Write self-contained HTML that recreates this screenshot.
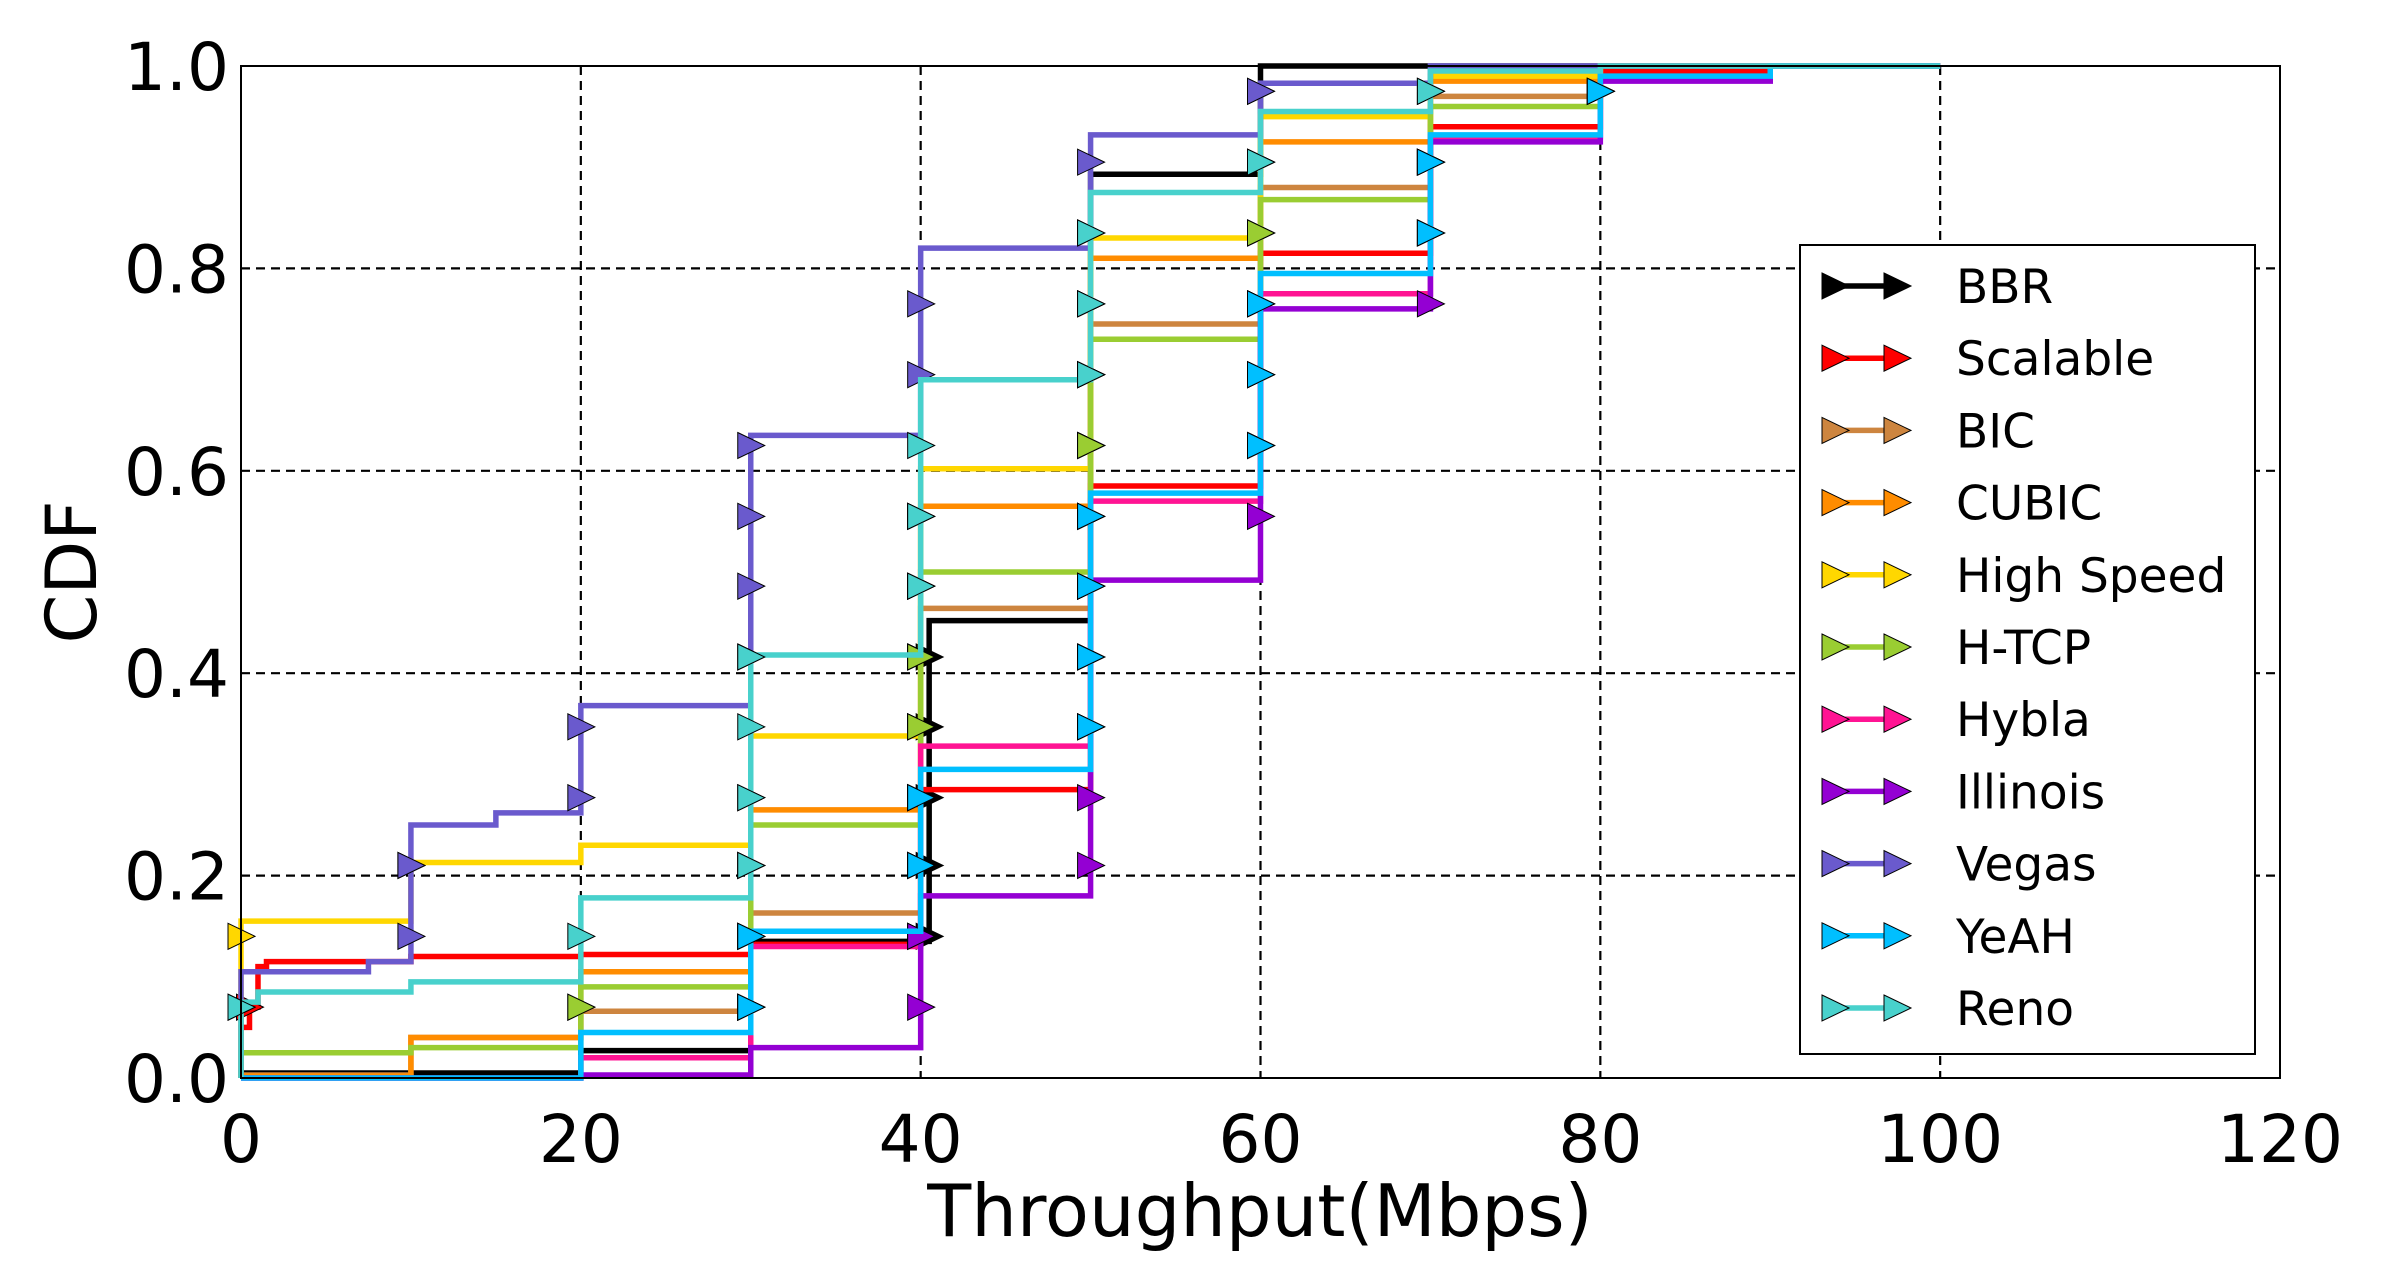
<!DOCTYPE html>
<html><head><meta charset="utf-8"><style>
html,body{margin:0;padding:0;background:#fff}
svg{display:block}
text{font-family:"DejaVu Sans","Liberation Sans",sans-serif;fill:#000}
</style></head><body>
<svg id="chart" width="2400" height="1270" viewBox="0 0 2400 1270" xmlns="http://www.w3.org/2000/svg">
<g id="grid"></g>
<g id="series"></g>
<rect x="241" y="66" width="2039" height="1012" fill="none" stroke="#000" stroke-width="2"/>
<g id="ticks"></g>
<text x="1260" y="1236" font-size="72" text-anchor="middle">Throughput(Mbps)</text>
<text x="0" y="0" font-size="70" text-anchor="middle" transform="translate(96,572) rotate(-90)">CDF</text>
<g id="legend"></g>
</svg>
<script>
const xTicks=[0,20,40,60,80,100,120];
const yTicks=[0.0,0.2,0.4,0.6,0.8,1.0];
const names=["BBR","Scalable","BIC","CUBIC","High Speed","H-TCP","Hybla","Illinois","Vegas","YeAH","Reno"];
const colors=["#000000","#ff0000","#cd853f","#ff8c00","#ffd700","#9acd32","#ff1493","#9400d3","#6a5acd","#00bfff","#48d1cc"];
const bbrX=[0,20,30,40.5,50,60,100];
const bbrY=[0.005,0.027,0.135,0.452,0.893,1.0,1.0];
const scalableX=[0,0.5,1,1.5,10,20,30,40,50,60,70,80,90,100];
const scalableY=[0.05,0.07,0.11,0.115,0.12,0.122,0.132,0.285,0.585,0.815,0.94,0.995,1.0,1.0];
const bicX=[0,10,20,30,40,50,60,70,80,100];
const bicY=[0.003,0.04,0.066,0.163,0.464,0.745,0.88,0.97,1.0,1.0];
const cubicX=[0,10,20,30,40,50,60,70,80,100];
const cubicY=[0.002,0.04,0.105,0.265,0.565,0.81,0.925,0.985,1.0,1.0];
const highSpeedX=[0,10,20,30,40,50,60,70,80,100];
const highSpeedY=[0.155,0.213,0.23,0.338,0.602,0.83,0.95,0.99,1.0,1.0];
const htcpX=[0,10,20,30,40,50,60,70,80,100];
const htcpY=[0.025,0.03,0.09,0.25,0.5,0.73,0.868,0.96,1.0,1.0];
const hyblaX=[0,20,30,40,50,60,70,80,100];
const hyblaY=[0.0,0.02,0.13,0.328,0.57,0.775,0.93,1.0,1.0];
const illinoisX=[0,20,30,40,50,60,70,80,90,100];
const illinoisY=[0.0,0.003,0.03,0.18,0.492,0.76,0.925,0.985,1.0,1.0];
const vegasX=[0,7.5,10,15,20,30,40,50,60,70,100];
const vegasY=[0.105,0.115,0.25,0.262,0.368,0.635,0.82,0.932,0.983,1.0,1.0];
const yeahX=[0,20,30,40,50,60,70,80,90,100];
const yeahY=[0.0,0.045,0.145,0.305,0.578,0.795,0.932,0.99,1.0,1.0];
const renoX=[0,1,10,20,30,40,50,60,70,80,100];
const renoY=[0.075,0.085,0.095,0.178,0.418,0.69,0.875,0.955,0.995,1.0,1.0];
const markerLevels=[0.07,0.14,0.21,0.277,0.347,0.416,0.486,0.555,0.625,0.695,0.765,0.835,0.905,0.975];
const seriesX=[bbrX,scalableX,bicX,cubicX,highSpeedX,htcpX,hyblaX,illinoisX,vegasX,yeahX,renoX];
const seriesY=[bbrY,scalableY,bicY,cubicY,highSpeedY,htcpY,hyblaY,illinoisY,vegasY,yeahY,renoY];

const L=241,R=2280,T=66,B=1078;
const xs=v=>L+(v-0)/(120-0)*(R-L);
const ys=v=>B-(v-0)/(1-0)*(B-T);
const NS="http://www.w3.org/2000/svg";
function mk(tag,attrs,parent){const e=document.createElementNS(NS,tag);for(const k in attrs)e.setAttribute(k,attrs[k]);parent.appendChild(e);return e;}
const grid=document.getElementById('grid'),ticks=document.getElementById('ticks');
xTicks.forEach(t=>{
  if(t>0&&t<120){const g=mk('line',{x1:xs(t),x2:xs(t),y1:T,y2:B,stroke:'#000','stroke-width':2.2,'stroke-dasharray':'9,6'},grid);
  
  }
  const tx=mk('text',{x:xs(t),y:1162,'font-size':66,'text-anchor':'middle'},ticks);tx.textContent=String(t);
  
  
});
yTicks.forEach(t=>{
  if(t>0&&t<1){const g=mk('line',{x1:L,x2:R,y1:ys(t),y2:ys(t),stroke:'#000','stroke-width':2.2,'stroke-dasharray':'9,6'},grid);
  
  }
  const tx=mk('text',{x:229,y:ys(t)+24,'font-size':66,'text-anchor':'end'},ticks);tx.textContent=t.toFixed(1);
  
  
});
function tri(cx,cy,s){return `${cx-s},${cy-s} ${cx+s+1},${cy} ${cx-s},${cy+s}`;}
const sl=document.getElementById('series');
seriesX.forEach((X,i)=>{
  const Y=seriesY[i];
  const g=mk('g',{},sl);
  
  
  let d=`M${xs(X[0])},${ys(0)} L${xs(X[0])},${ys(Y[0])}`;
  for(let k=1;k<X.length;k++){d+=` L${xs(X[k])},${ys(Y[k-1])} L${xs(X[k])},${ys(Y[k])}`;}
  const p=mk('path',{d:d,fill:'none',stroke:colors[i],'stroke-width':5.5},g);
  
  
  markerLevels.forEach(q=>{
    let prev=0;
    for(let k=0;k<X.length;k++){
      if(prev<q&&Y[k]>=q){
        const m=mk('polygon',{points:tri(xs(X[k]),ys(q),13),fill:colors[i],stroke:'#000','stroke-width':1},g);
        
        
        break;}
      prev=Y[k];
    }
  });
});
const lg=document.getElementById('legend');
const box=mk('rect',{x:1800,y:245,width:455,height:809,fill:'#fff',stroke:'#000','stroke-width':2},lg);


names.forEach((n,i)=>{
  const y=286+i*72.2;
  const g=mk('g',{},lg);
  
  
  mk('line',{x1:1822,x2:1905,y1:y,y2:y,stroke:colors[i],'stroke-width':5.5},g);
  mk('polygon',{points:tri(1835,y,13),fill:colors[i],stroke:'#000','stroke-width':1},g);
  mk('polygon',{points:tri(1897,y,13),fill:colors[i],stroke:'#000','stroke-width':1},g);
  const t=mk('text',{x:1956,y:y+17,'font-size':47},g);t.textContent=n;
});
</script>
</body></html>
